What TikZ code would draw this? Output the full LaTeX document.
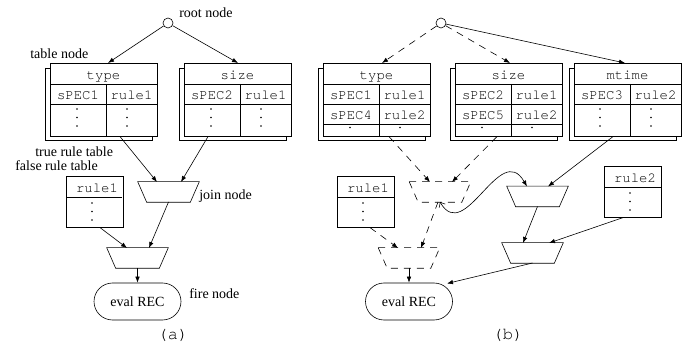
\documentclass[tikz,border=0pt]{standalone}
\usepackage{fontspec}
\setmainfont{Liberation Serif}
\setmonofont{TeX Gyre Cursor}
\usetikzlibrary{arrows.meta,shapes.geometric,shapes.misc,calc}

\tikzset{
  lbl/.style={font=\fontsize{14}{16}\selectfont, inner sep=0pt},
  mono/.style={font=\fontsize{14}{16}\selectfont\ttfamily, inner sep=0pt},
  capt/.style={font=\fontsize{17}{19}\selectfont\ttfamily, inner sep=0pt},
  arr/.style={-{Latex[length=6pt,width=4.5pt]}},
  dsh/.style={dash pattern=on 7pt off 6pt},
  tab/.style={draw, rectangle, minimum width=107pt, minimum height=73pt, inner sep=0pt, anchor=north west},
  rbox/.style={draw, rectangle, minimum width=57pt, minimum height=51pt, inner sep=0pt, anchor=north west},
  joinnode/.style={rectangle, minimum width=61pt, minimum height=20pt, inner sep=0pt,
    append after command={\pgfextra{\draw[#1] (\tikzlastnode.north west) -- (\tikzlastnode.north east)
      -- ([xshift=-9pt]\tikzlastnode.south east) -- ([xshift=9pt]\tikzlastnode.south west) -- cycle;}}},
  joinnode/.default={},
  firenode/.style={draw, rounded rectangle, minimum width=87pt, minimum height=37pt, inner sep=0pt, font=\fontsize{14}{16}\selectfont},
  rootc/.style={draw, circle, minimum size=10pt, inner sep=0pt, fill=white},
}

\newcommand{\mkTabFrame}[3]{%
  \node[tab] (#1) at (#2,63) {};
  \draw ({#2-5},68) -- (#2,68);
  \draw ({#2-5},68) -- ({#2-5},140) -- ({#2+102},140) -- ({#2+102},136);
  \draw (#2,84) -- ({#2+107},84);
  \draw (#2,104) -- ({#2+107},104);
  \draw ({#2+56},84) -- ({#2+56},136);
  \node[mono,anchor=base] (#1h) at ({#2+53.5},80) {#3};
}
\newcommand{\mkTabRow}[5]{%
  \node[mono,anchor=base] (#1l) at ({#2+28},#3) {#4};
  \node[mono,anchor=base] (#1r) at ({#2+81.5},#3) {#5};
}
\newcommand{\mkDots}[2]{%
  \fill (#1,#2) circle (0.8pt) (#1,{#2+8.5}) circle (0.8pt) (#1,{#2+17}) circle (0.8pt);
}

\begin{document}
\begin{tikzpicture}[x=1pt,y=-1pt,line width=0.6pt]
\useasboundingbox (0,0) rectangle (688,347);

% ================= (a) =================
\node[rootc] (rA) at (168,23) {};
\node[lbl,anchor=base west] (lroot) at (179,17.5) {root node};
\node[lbl,anchor=base west] (ltable) at (30,58.3) {table node};

\mkTabFrame{tA}{50}{type}
\mkTabRow{tAa}{50}{100}{sPEC1}{rule1}
\mkDots{77}{109}
\mkDots{127}{109}

\mkTabFrame{sA}{184}{size}
\mkTabRow{sAa}{184}{100}{sPEC2}{rule1}
\mkDots{211}{109}
\mkDots{261}{109}

\node[lbl,anchor=base west] (ltrue) at (35,156.5) {true rule table};
\node[lbl,anchor=base west] (lfalse) at (15,170.5) {false rule table};

\node[rbox] (rlA) at (66,176) {};
\draw (66,197) -- (122,197);
\node[mono,anchor=base] (rlAt) at (97,193) {rule1};
\mkDots{92}{203}

\node[joinnode] (jA1) at (168.5,192) {};
\node[lbl,anchor=base west] (ljoin) at (199,200) {join node};
\node[joinnode] (jA2) at (137.5,258) {};
\node[firenode] (eA) at (137.5,301.5) {eval REC};
\node[lbl,anchor=base west] (lfire) at (189,299) {fire node};
\node[capt] (capA) at (173,335) {(a)};

\draw[arr] (rA) -- ($(tA.north west)+(58,0)$);
\draw[arr] (rA) -- ($(sA.north west)+(54,0)$);
\draw[arr] ($(tA.south west)+(70,0)$) -- ($(jA1)+(-11.5,-10)$);
\draw[arr] ($(sA.south west)+(24,0)$) -- ($(jA1)+(12.5,-10)$);
\draw[arr] ($(jA1)+(0,10)$) -- ($(jA2)+(11.5,-10)$);
\draw[arr] ($(rlA.south west)+(34,0)$) -- ($(jA2)+(-10.5,-10)$);
\draw[arr] ($(jA2)+(0,10)$) -- (eA.north);

% ================= (b) =================
\node[rootc] (rB) at (441,23) {};

\mkTabFrame{tB}{323}{type}
\mkTabRow{tBa}{323}{100}{sPEC1}{rule1}
\mkTabRow{tBb}{323}{120}{sPEC4}{rule2}
\draw (323,124) -- (430,124);
\fill (350,127.5) circle (0.8pt) (400,127.5) circle (0.8pt);

\mkTabFrame{sB}{455}{size}
\mkTabRow{sBa}{455}{100}{sPEC2}{rule1}
\mkTabRow{sBb}{455}{120}{sPEC5}{rule2}
\draw (455,124) -- (562,124);
\fill (482,127.5) circle (0.8pt) (532,127.5) circle (0.8pt);

\mkTabFrame{mB}{574}{mtime}
\mkTabRow{mBa}{574}{100}{sPEC3}{rule2}
\mkDots{600}{109}
\mkDots{651}{109}

\node[rbox] (rlB) at (337,176) {};
\draw (337,197) -- (394,197);
\node[mono,anchor=base] (rlBt) at (368,193) {rule1};
\mkDots{363}{203}

\node[rbox] (r2B) at (604,166) {};
\draw (604,187) -- (661,187);
\node[mono,anchor=base] (r2Bt) at (635,183) {rule2};
\mkDots{630}{193}

\node[joinnode=dsh] (dB1) at (440,192) {};
\node[joinnode=dsh] (dB2) at (409,258) {};
\node[joinnode] (jB1) at (537.5,196.5) {};
\node[joinnode] (jB2) at (532.5,253) {};
\node[firenode] (eB) at (409,301.5) {eval REC};
\node[capt] (capB) at (508,335) {(b)};

\draw[arr,dsh] (rB) -- ($(tB.north west)+(59,0)$);
\draw[arr,dsh] (rB) -- ($(sB.north west)+(55,0)$);
\draw[arr] (rB) -- ($(mB.north west)+(51,0)$);
\draw[arr,dsh] ($(tB.south west)+(66,0)$) -- ($(dB1)+(-10,-10)$);
\draw[arr,dsh] ($(sB.south west)+(42,0)$) -- ($(dB1)+(12,-10)$);
\draw[arr,dsh] ($(dB1)+(-2,10)$) -- ($(dB2)+(12,-10)$);
\draw[arr,dsh] ($(rlB.south west)+(33,0)$) -- ($(dB2)+(-11,-10)$);
\draw[arr] ($(dB2)+(0,10)$) -- (eB.north);
\draw[{Straight Barb[length=4pt,width=7pt]}-{Latex[length=6pt,width=4.5pt]}]
  ($(dB1)+(0,10)$) .. controls (465,245) and (500,140) .. ($(jB1)+(-10.5,-10)$);
\draw[arr] ($(mB.south west)+(39,0)$) -- ($(jB1)+(10.5,-10)$);
\draw[arr] ($(jB1)+(0,10)$) -- ($(jB2)+(-9.5,-10)$);
\draw[arr] ($(r2B.south west)+(19,0)$) -- ($(jB2)+(16.5,-10)$);
\draw[arr] ($(jB2)+(0,10)$) -- ($(eB.center)+(38,-18)$);

\end{tikzpicture}
\end{document}
